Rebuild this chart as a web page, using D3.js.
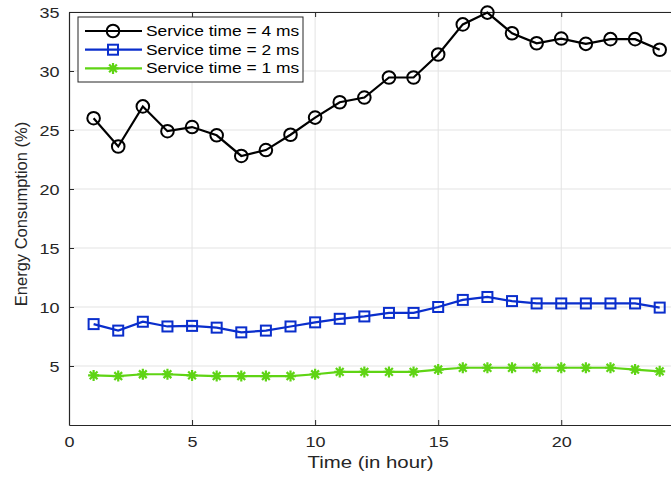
<!DOCTYPE html>
<html>
<head>
<meta charset="utf-8">
<script src="https://cdn.jsdelivr.net/npm/d3@7"></script>
<style>
  body { margin: 0; background: #fff; }
  svg { display: block; font-family: "Liberation Sans", Arial, sans-serif; }
</style>
</head>
<body>
<div id="chart"></div>
<script>
const hours = d3.range(1, 25);
const service4 = [26.0, 23.6, 27.0, 24.9, 25.25, 24.55, 22.8, 23.3, 24.6, 26.05, 27.35, 27.75,
  29.45, 29.45, 31.4, 33.95, 34.95, 33.2, 32.35, 32.75, 32.3, 32.7, 32.7, 31.8];
const service2 = [8.55, 8.0, 8.75, 8.35, 8.4, 8.25, 7.85, 8.0, 8.35, 8.7, 9.0, 9.2,
  9.5, 9.5, 10.0, 10.6, 10.85, 10.5, 10.3, 10.3, 10.3, 10.3, 10.3, 9.95];
const service1 = [4.2, 4.15, 4.3, 4.3, 4.2, 4.15, 4.15, 4.15, 4.15, 4.3, 4.5, 4.5,
  4.5, 4.5, 4.7, 4.85, 4.85, 4.85, 4.85, 4.85, 4.85, 4.85, 4.7, 4.55];
const xTicks = [0, 5, 10, 15, 20];
const yTicks = [5, 10, 15, 20, 25, 30, 35];
const seriesNames = ["Service time = 4 ms", "Service time = 2 ms", "Service time = 1 ms"];

const width = 671, height = 479;
const margin = { top: 12, right: -1, bottom: 54, left: 69 };
// the original text renders wider than Liberation Sans
const stretch = 1.2;

const svg = d3.select("#chart").append("svg")
  .attr("width", width)
  .attr("height", height);

const x = d3.scaleLinear().domain([0, 24.5]).range([margin.left, width - margin.right]);
const y = d3.scaleLinear().domain([0, 35]).range([height - margin.bottom, margin.top]);

// grid
svg.append("g").selectAll("line")
  .data(xTicks.filter(d => d > 0))
  .join("line")
    .attr("x1", d => x(d)).attr("x2", d => x(d))
    .attr("y1", y(0)).attr("y2", y(35))
    .attr("stroke", "#e3e3e3").attr("stroke-width", 1);
svg.append("g").selectAll("line")
  .data(yTicks)
  .join("line")
    .attr("x1", x(0)).attr("x2", width)
    .attr("y1", d => y(d)).attr("y2", d => y(d))
    .attr("stroke", "#e3e3e3").attr("stroke-width", 1);

// axes
const axisColor = "#262626";
const xAxis = svg.append("g")
  .attr("transform", `translate(0,${y(0)})`)
  .call(d3.axisBottom(x).tickValues(xTicks).tickSizeInner(-5).tickSizeOuter(0).tickPadding(11));
const xTop = svg.append("g")
  .attr("transform", `translate(0,${y(35)})`)
  .call(d3.axisTop(x).tickValues(xTicks).tickSizeInner(-5).tickSizeOuter(0).tickFormat(""));
const yAxis = svg.append("g")
  .attr("transform", `translate(${x(0)},0)`)
  .call(d3.axisLeft(y).tickValues(yTicks).tickSizeInner(-5).tickSizeOuter(0).tickPadding(8));

[xAxis, xTop, yAxis].forEach(g => {
  g.select(".domain").attr("stroke", axisColor).attr("stroke-width", 1.2);
  g.selectAll(".tick line").attr("stroke", axisColor);
  g.selectAll(".tick text").attr("fill", axisColor).style("font-size", "15px")
    .style("font-family", "'Liberation Sans', Arial, sans-serif")
    .attr("transform", `scale(${stretch},1)`);
});
yAxis.selectAll(".tick text").attr("dy", "0.35em");

svg.append("text")
  .attr("transform", `translate(${x(12.25)},468) scale(${stretch},1)`)
  .attr("text-anchor", "middle")
  .attr("fill", axisColor)
  .style("font-size", "17px")
  .text("Time (in hour)");

svg.append("text")
  .attr("transform", `translate(27,214) rotate(-90)`)
  .attr("text-anchor", "middle")
  .attr("fill", axisColor)
  .style("font-size", "16.5px")
  .text("Energy Consumption (%)");

// series
const line = d3.line().x((d, i) => x(hours[i])).y(d => y(d));
const series = [
  { values: service4, color: "#000000", marker: "circle" },
  { values: service2, color: "#0a2ecc", marker: "square" },
  { values: service1, color: "#5fd414", marker: "star" }
];

function drawMarker(g, type, color) {
  if (type === "circle") {
    g.append("circle").attr("r", 6.3).attr("fill", "none")
      .attr("stroke", color).attr("stroke-width", 2);
  } else if (type === "square") {
    g.append("rect").attr("x", -5).attr("y", -5).attr("width", 10).attr("height", 10)
      .attr("fill", "none").attr("stroke", color).attr("stroke-width", 2);
  } else {
    const r = 5.5;
    const p = [0, 45, 90, 135].map(a => {
      const t = a * Math.PI / 180;
      return `M${-r * Math.cos(t)},${-r * Math.sin(t)}L${r * Math.cos(t)},${r * Math.sin(t)}`;
    }).join("");
    g.append("path").attr("d", p).attr("stroke", color).attr("stroke-width", 2.2);
  }
}

series.forEach(s => {
  svg.append("path")
    .datum(s.values)
    .attr("d", line)
    .attr("fill", "none")
    .attr("stroke", s.color)
    .attr("stroke-width", 2.2);
  svg.append("g").selectAll("g")
    .data(s.values)
    .join("g")
      .attr("transform", (d, i) => `translate(${x(hours[i])},${y(d)})`)
      .each(function () { drawMarker(d3.select(this), s.marker, s.color); });
});

// legend
const legend = svg.append("g").attr("transform", "translate(78,17)");
legend.append("rect")
  .attr("width", 225).attr("height", 65)
  .attr("fill", "#fff").attr("stroke", axisColor).attr("stroke-width", 1);
seriesNames.forEach((name, i) => {
  const ly = 14 + i * 18.7;
  const g = legend.append("g");
  g.append("line").attr("x1", 7).attr("x2", 64).attr("y1", ly).attr("y2", ly)
    .attr("stroke", series[i].color).attr("stroke-width", 2.2);
  drawMarker(g.append("g").attr("transform", `translate(35,${ly})`), series[i].marker, series[i].color);
  g.append("text")
    .attr("transform", `translate(68,${ly}) scale(${stretch},1)`)
    .attr("dy", "0.35em")
    .attr("fill", "#000").style("font-size", "14.5px").text(name);
});
</script>
</body>
</html>
